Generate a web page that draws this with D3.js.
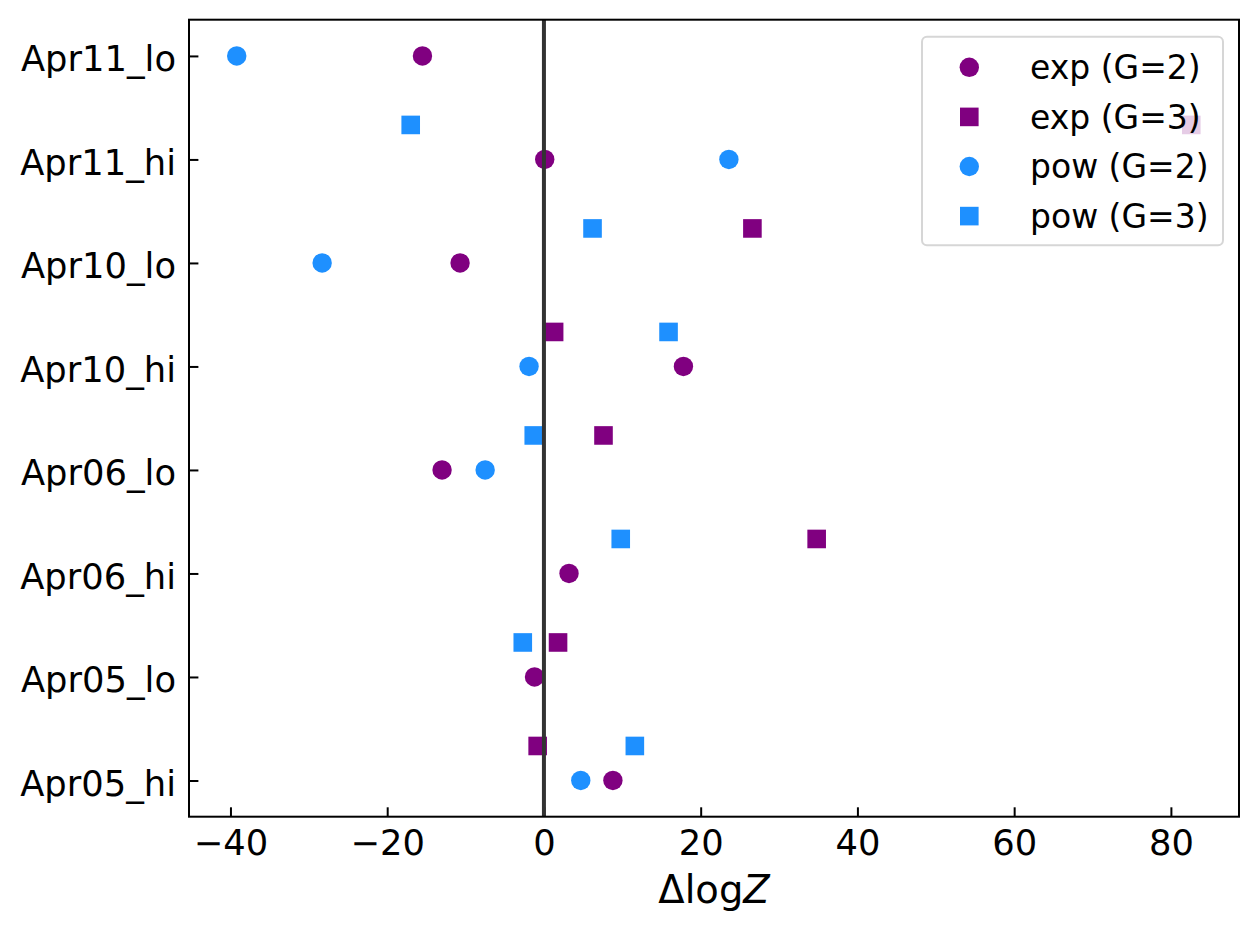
<!DOCTYPE html>
<html>
<head>
<meta charset="utf-8">
<script src="https://cdn.jsdelivr.net/npm/d3@7"></script>
<style>
  body { margin: 0; background: #fff; }
  svg { font-family: "DejaVu Sans", sans-serif; }
  .axis path, .axis line { stroke: #000; stroke-width: 2px; }
  .axis text { fill: #000; font-size: 35.3px; font-family: "DejaVu Sans", sans-serif; }
</style>
</head>
<body>
<div id="chart"></div>
<script>
// ---- data (rows listed bottom to top) ----
const runs = ["Apr05_hi", "Apr05_lo", "Apr06_hi", "Apr06_lo", "Apr10_hi", "Apr10_lo", "Apr11_hi", "Apr11_lo"];

// G=2 fits sit on the run rows
const expG2 = [8.8, -1.2, 3.2, -13.0, 17.8, -10.7, 0.1, -15.5];
const powG2 = [4.7, null, null, -7.5, -1.9, -28.3, 23.6, -39.2];

// G=3 fits sit a third of a row above each run (no entry above the top row)
const expG3 = [-0.8, 1.8, 34.8, 7.6, 1.3, 26.6, 82.6];
const powG3 = [11.6, -2.7, 9.8, -1.3, 15.9, 6.2, -17.0];
const g3Offset = 1 / 3;

const xTicks = [-40, -20, 0, 20, 40, 60, 80];

const series = [
  { label: "exp (G=2)", values: expG2, shape: "circle", color: "#800080", offset: 0 },
  { label: "exp (G=3)", values: expG3, shape: "square", color: "#800080", offset: g3Offset },
  { label: "pow (G=2)", values: powG2, shape: "circle", color: "#1E90FF", offset: 0 },
  { label: "pow (G=3)", values: powG3, shape: "square", color: "#1E90FF", offset: g3Offset }
];

// ---- layout ----
const W = 1259, H = 934;
const margin = { left: 189, right: 20, top: 19.7, bottom: 117.3 };
const iw = W - margin.left - margin.right;
const ih = H - margin.top - margin.bottom;

const svg = d3.select("#chart").append("svg")
  .attr("width", W).attr("height", H);

const g = svg.append("g").attr("transform", `translate(${margin.left},${margin.top})`);

// flatten to points
const points = [];
series.forEach(s => {
  s.values.forEach((v, i) => {
    if (v == null) return;
    points.push({ x: v, y: i + s.offset, s });
  });
});

// matplotlib-style 5% margins
const pad = (ext) => { const r = ext[1] - ext[0]; return [ext[0] - 0.05 * r, ext[1] + 0.05 * r]; };
const x = d3.scaleLinear().domain(pad(d3.extent(points, d => d.x))).range([0, iw]);
const y = d3.scaleLinear().domain(pad([0, runs.length - 1])).range([ih, 0]);

// axes (ticks pointing inward)
g.append("g").attr("class", "axis")
  .attr("transform", `translate(0,${ih})`)
  .call(d3.axisBottom(x).tickValues(xTicks).tickSize(-9.4).tickPadding(13)
    .tickFormat(d => d3.format("")(d).replace("-", "\u2212")))
  .call(a => a.select(".domain").remove());

g.append("g").attr("class", "axis")
  .call(d3.axisLeft(y).tickValues(d3.range(runs.length)).tickSize(-9.4).tickPadding(13)
    .tickFormat(i => runs[i]))
  .call(a => a.select(".domain").remove())
  .call(a => a.selectAll("text").attr("dy", "0.42em"));

// markers
const r = 9.7, side = 18.6;
const marks = g.append("g");
points.forEach(p => {
  if (p.s.shape === "circle") {
    marks.append("circle")
      .attr("cx", x(p.x)).attr("cy", y(p.y)).attr("r", r)
      .attr("fill", p.s.color);
  } else {
    marks.append("rect")
      .attr("x", x(p.x) - side / 2).attr("y", y(p.y) - side / 2)
      .attr("width", side).attr("height", side)
      .attr("fill", p.s.color);
  }
});

// zero line on top of the markers
g.append("line")
  .attr("x1", x(0)).attr("x2", x(0)).attr("y1", 0).attr("y2", ih)
  .attr("stroke", "#333333").attr("stroke-width", 4);

// frame
g.append("rect")
  .attr("width", iw).attr("height", ih)
  .attr("fill", "none").attr("stroke", "#000").attr("stroke-width", 2);

// x label
svg.append("text")
  .attr("x", margin.left + iw / 2).attr("y", 903)
  .attr("text-anchor", "middle").attr("font-size", 38.5)
  .call(t => {
    t.append("tspan").text("\u0394log");
    t.append("tspan").attr("font-style", "italic").text("Z");
  });

// legend
const leg = svg.append("g").attr("transform", "translate(922,36.7)");
leg.append("rect")
  .attr("width", 301).attr("height", 208.6).attr("rx", 5)
  .attr("fill", "#fff").attr("fill-opacity", 0.8)
  .attr("stroke", "#cccccc").attr("stroke-opacity", 0.8).attr("stroke-width", 2);

series.forEach((s, i) => {
  const cy = 30.6 + i * 49.6;
  if (s.shape === "circle") {
    leg.append("circle").attr("cx", 47.3).attr("cy", cy).attr("r", r).attr("fill", s.color);
  } else {
    leg.append("rect").attr("x", 47.3 - side / 2).attr("y", cy - side / 2)
      .attr("width", side).attr("height", side).attr("fill", s.color);
  }
  leg.append("text")
    .attr("x", 108).attr("y", cy + 12)
    .attr("font-size", 33).text(s.label);
});
</script>
</body>
</html>
